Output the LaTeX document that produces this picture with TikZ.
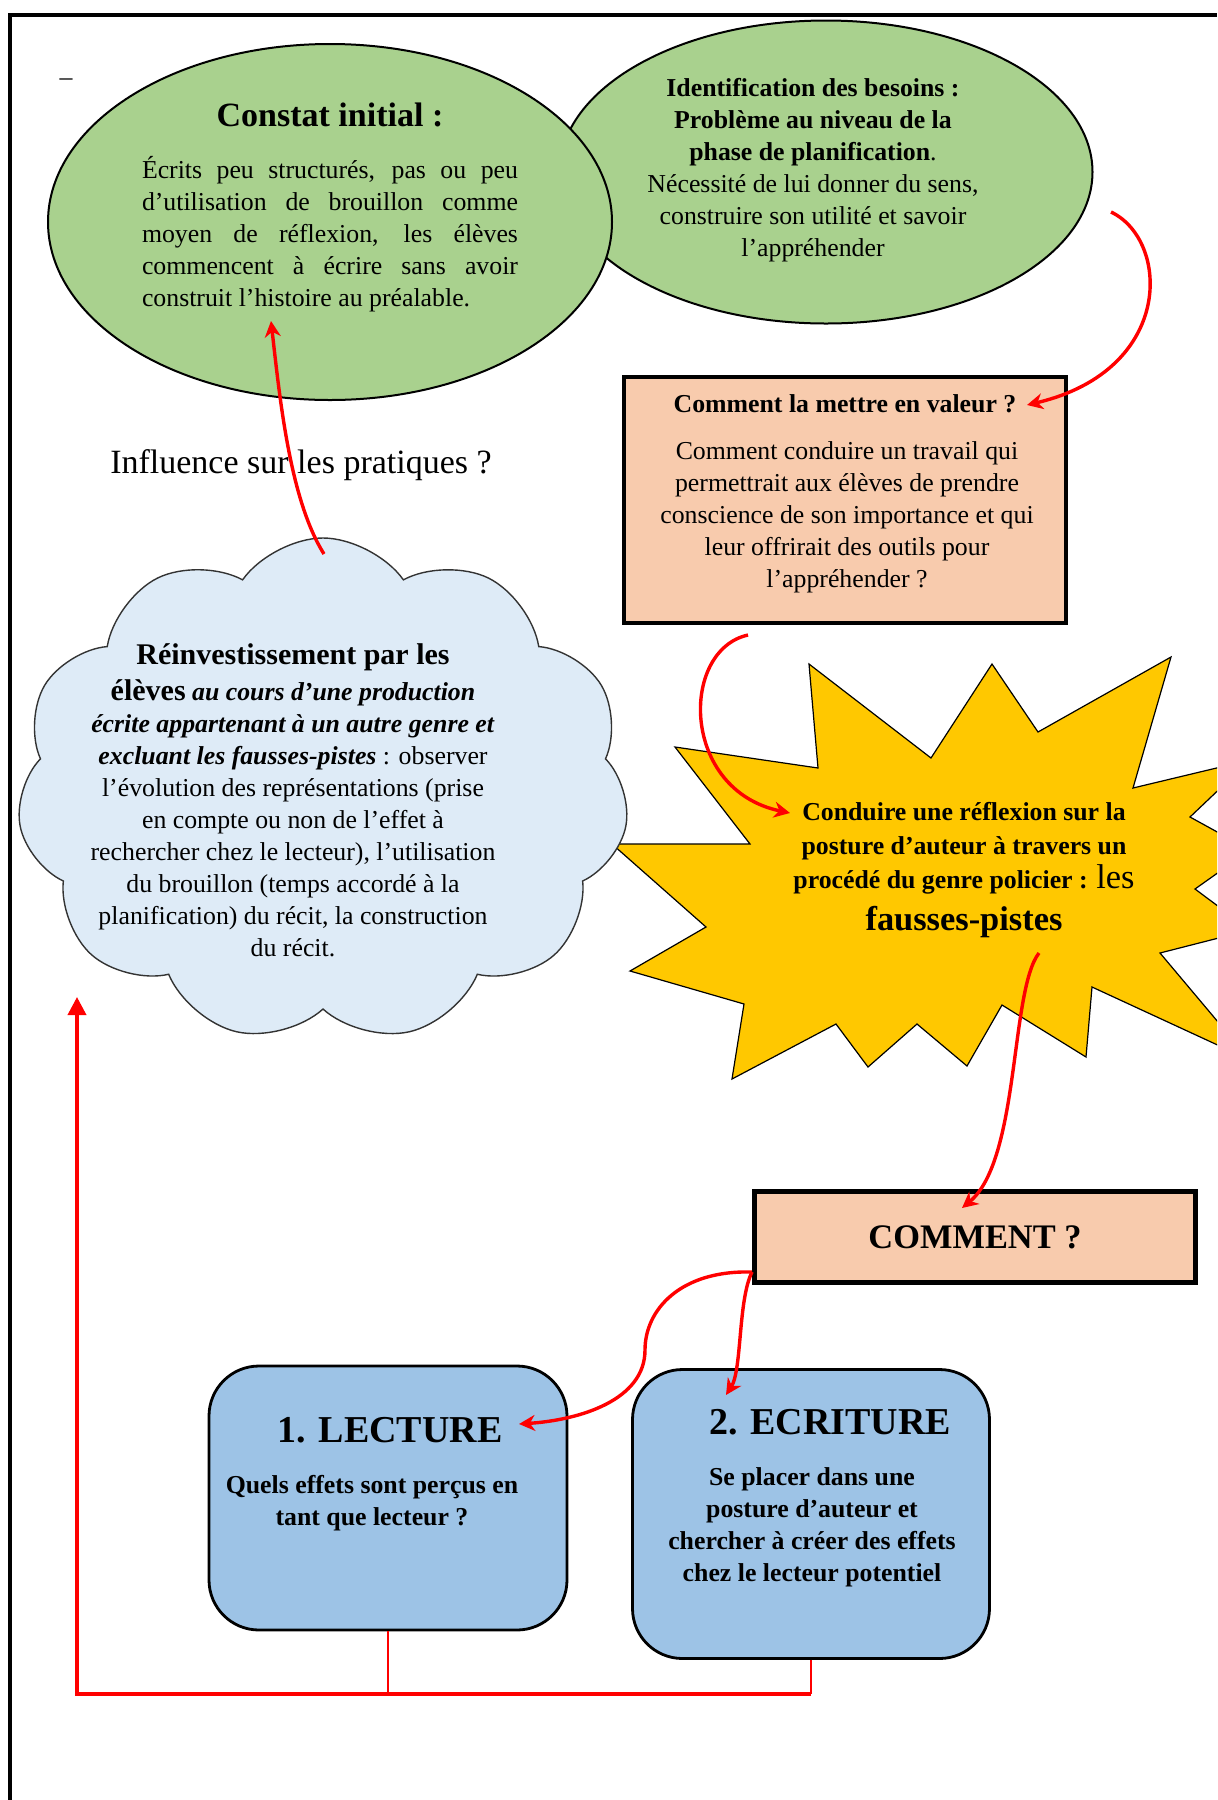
\documentclass[tikz,border=0pt]{standalone}
\usepackage{fontspec}
\setmainfont{Liberation Serif}
\usetikzlibrary{shapes.geometric,shapes.symbols,arrows.meta}
\definecolor{vert}{HTML}{A9D18E}
\definecolor{saumon}{HTML}{F8CBAD}
\definecolor{ciel}{HTML}{DEEBF7}
\definecolor{bleu}{HTML}{9DC3E6}
\definecolor{soleil}{HTML}{FFC800}

\begin{document}
\begin{tikzpicture}[x=0.5pt,y=-0.5pt,
    bulle/.style={ellipse,draw,line width=1pt,fill=vert,inner sep=0pt},
    cadre/.style={rectangle,draw,line width=2.3pt,fill=saumon,inner sep=0pt},
    bloc/.style={rectangle,rounded corners=25pt,draw,line width=1.4pt,fill=bleu,inner sep=0pt},
    texte/.style={align=center,font=\fontsize{12.9}{16}\selectfont,inner sep=0pt},
    fleche/.style={draw=red,line width=1.7pt,-{Stealth[length=8pt,width=8pt]}},
    trait/.style={draw=red,line width=1pt}]
\useasboundingbox (0,0) rectangle (1217,1800);
\clip (0,0) rectangle (1217,1800);
\draw[line width=2pt] (10,1800) -- (10,15) -- (1217,15);
\node[texte] (tiret) at (66,82) {–};

\node[bulle,minimum width=266.5pt,minimum height=151.5pt] (besoins) at (826,172) {};
\node[bulle,minimum width=282pt,minimum height=178pt] (constat) at (330,222) {};
\node[texte,font=\bfseries\fontsize{17}{20}\selectfont] (constatT) at (330,115) {Constat initial :};
\node[texte,align=justify,text width=188pt] (constatB) at (330,234) {Écrits peu structurés, pas ou peu\linebreak d’utilisation de brouillon comme\linebreak moyen de réflexion, les élèves\linebreak commencent à écrire sans avoir\linebreak construit l’histoire au préalable.};
\node[texte] (besoinsT) at (813,170) {\textbf{Identification des besoins :}\\ \textbf{Problème au niveau de la}\\ \textbf{phase de planification}.\\ Nécessité de lui donner du sens,\\ construire son utilité et savoir\\ l’appréhender};

\node[cadre,minimum width=221pt,minimum height=123pt] (valeur) at (845,500) {};
\node[texte,font=\bfseries\fontsize{12.9}{16}\selectfont] (valeurT) at (845,404) {Comment la mettre en valeur ?};
\node[texte] (valeurB) at (847,517) {Comment conduire un travail qui\\ permettrait aux élèves de prendre\\ conscience de son importance et qui\\ leur offrirait des outils pour\\ l’appréhender ?};

\node[texte,font=\fontsize{17}{20}\selectfont] (influence) at (301,465) {Influence sur les pratiques ?};

\filldraw[fill=soleil,draw=black,line width=0.6pt] (675,747) -- (818,768) -- (809,664) -- (931,758) -- (992,664) -- (1038,732) -- (1171,657) -- (1133,788) -- (1250,760) -- (1190,817) -- (1250,850) -- (1195,889) -- (1250,930) -- (1160,953) -- (1250,1060) -- (1092,987) -- (1086,1057) -- (1002,1005) -- (967,1066) -- (917,1024) -- (868,1067) -- (836,1024) -- (732,1079) -- (744,1004) -- (630,971) -- (706,927) -- (612,844) -- (750,844) -- cycle;
\node[texte,font=\bfseries\fontsize{12.9}{17}\selectfont] (etoile) at (964,870) {Conduire une réflexion sur la\\ posture d’auteur à travers un\\ procédé du genre policier : {\mdseries\fontsize{17.2}{19}\selectfont les}\\[4pt] {\fontsize{17.2}{19}\selectfont fausses-pistes}};

\node[cloud,cloud puffs=11,cloud puff arc=110,aspect=1.2,draw=black!80,fill=ciel,line width=0.7pt,minimum width=306pt,minimum height=252pt,inner sep=0pt] (nuage) at (323,790) {};
\node[texte] (nuageT) at (293,800) {{\bfseries\fontsize{15}{17}\selectfont Réinvestissement par les}\\[2pt] {\bfseries\fontsize{15}{17}\selectfont élèves} \textbf{\itshape au cours d’une production}\\ \textbf{\itshape écrite appartenant à un autre genre et}\\ \textbf{\itshape excluant les fausses-pistes} : observer\\ l’évolution des représentations (prise\\ en compte ou non de l’effet à\\ rechercher chez le lecteur), l’utilisation\\ du brouillon (temps accordé à la\\ planification) du récit, la construction\\ du récit.};

\node[cadre,minimum width=220.5pt,minimum height=45.5pt,font=\bfseries\fontsize{17.2}{20}\selectfont] (comment) at (975,1237) {COMMENT ?};

\node[bloc,minimum width=179pt,minimum height=132pt] (lecture) at (388,1498) {};
\node[texte,font=\bfseries\fontsize{19}{22}\selectfont] (lectureT) at (390,1430) {1. LECTURE};
\node[texte,font=\bfseries\fontsize{12.9}{16}\selectfont] (lectureB) at (372,1503) {Quels effets sont perçus en\\ tant que lecteur ?};
\node[bloc,minimum width=178.5pt,minimum height=144.5pt] (ecriture) at (811,1514) {};
\node[texte,font=\bfseries\fontsize{19}{22}\selectfont] (ecritureT) at (830,1422) {2. ECRITURE};
\node[texte,font=\bfseries\fontsize{12.9}{16}\selectfont] (ecritureB) at (812,1527) {Se placer dans une\\ posture d’auteur et\\ chercher à créer des effets\\ chez le lecteur potentiel};

\coordinate (n1) at (324,554);
\coordinate (c1) at (271,321);
\coordinate (b1) at (1111,212);
\coordinate (v1) at (1027,405);
\coordinate (v2) at (748,635);
\coordinate (e1) at (790,813);
\coordinate (e2) at (1039,953);
\coordinate (m1) at (962,1208);
\coordinate (m2) at (752,1272);
\coordinate (l1) at (519,1424);
\coordinate (k1) at (726,1395);
\coordinate (coin) at (77,1694);
\coordinate (retour) at (77,997);

\draw[fleche] (n1) .. controls (290,500) and (280,400) .. (c1);
\draw[fleche] (b1) .. controls (1170,240) and (1175,370) .. (v1);
\draw[fleche] (v2) .. controls (680,650) and (680,790) .. (e1);
\draw[fleche] (e2) .. controls (1010,990) and (1020,1160) .. (m1);
\draw[fleche] (m2) .. controls (680,1270) and (645,1310) .. (645,1350) .. controls (645,1400) and (580,1420) .. (l1);
\draw[fleche] (m2) .. controls (738,1300) and (742,1370) .. (k1);
\draw[trait] (lecture.south) -- (lecture.south |- coin);
\draw[trait] (ecriture.south) -- (ecriture.south |- coin);
\draw[draw=red,line width=1.8pt,-{Triangle[length=9pt,width=9pt]}] (ecriture.south |- coin) -- (coin) -- (retour);
\end{tikzpicture}
\end{document}
